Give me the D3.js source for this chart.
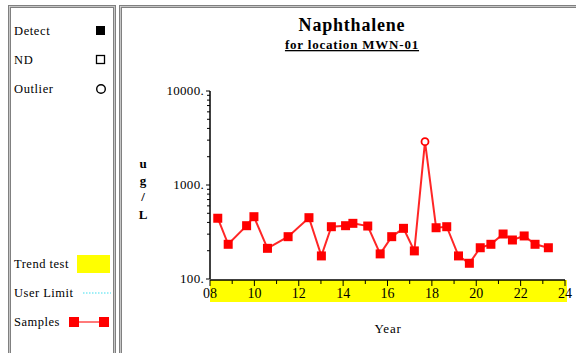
<!DOCTYPE html>
<html>
<meta charset="utf-8" />
<head>
<script src="https://cdnjs.cloudflare.com/ajax/libs/d3/7.8.5/d3.min.js"></script>
<style>
  body { margin: 0; background: #fff; }
</style>
</head>
<body>
<script>
// sample dates (decimal years, 2-digit) and naphthalene results (ug/L)
const years = [8.35, 8.82, 9.65, 9.98, 10.59, 11.52, 12.46, 13.02, 13.47, 14.11,
  14.44, 15.11, 15.67, 16.19, 16.72, 17.21, 17.69, 18.19, 18.67, 19.2,
  19.69, 20.18, 20.66, 21.21, 21.63, 22.16, 22.65, 23.25];
const values = [443, 234, 369, 460, 212, 282, 449, 176, 360, 369,
  391, 366, 185, 282, 346, 199, 2890, 351, 360, 176,
  147, 215, 234, 301, 260, 287, 234, 215];
const outlierIdx = [16];
const xTicks = [8, 10, 12, 14, 16, 18, 20, 22, 24];
const yTicks = [100, 1000, 10000];
const legendTop = ["Detect", "ND", "Outlier"];
const legendBottom = ["Trend test", "User Limit", "Samples"];

const W = 576, H = 353;
const svg = d3.select("body").append("svg").attr("width", W).attr("height", H)
  .attr("font-family", "'Liberation Serif', 'DejaVu Serif', serif");

// panel frames
const frame = (x, y, w, h) => {
  svg.append("rect").attr("x", x).attr("y", y).attr("width", w).attr("height", h)
    .attr("fill", "none").attr("stroke", "#808080").attr("stroke-width", 3);
  svg.append("rect").attr("x", x).attr("y", y).attr("width", w).attr("height", h)
    .attr("fill", "none").attr("stroke", "#d8d8d8").attr("stroke-width", 0.8);
};
frame(9.5, 6.5, 105, 360);
frame(120.5, 6.5, 470, 360);

// legend
const lg = svg.append("g").attr("font-size", 12.5).attr("fill", "#000");
const topY = [31, 60, 89];
legendTop.forEach((t, i) => lg.append("text").attr("x", 14).attr("y", topY[i] + 4).attr("letter-spacing", 0.6).text(t));
lg.append("rect").attr("x", 96).attr("y", topY[0] - 5).attr("width", 9).attr("height", 9).attr("fill", "#000");
lg.append("rect").attr("x", 96.5).attr("y", topY[1] - 4.5).attr("width", 8).attr("height", 8)
  .attr("fill", "none").attr("stroke", "#000").attr("stroke-width", 1.3);
lg.append("circle").attr("cx", 101).attr("cy", topY[2]).attr("r", 4.3)
  .attr("fill", "none").attr("stroke", "#000").attr("stroke-width", 1.4);

const botY = [264, 293, 322];
legendBottom.forEach((t, i) => lg.append("text").attr("x", 14).attr("y", botY[i] + 4).attr("letter-spacing", 0.5).text(t));
lg.append("rect").attr("x", 77).attr("y", 255).attr("width", 33).attr("height", 18).attr("fill", "#ffff00");
lg.append("line").attr("x1", 83).attr("x2", 111).attr("y1", 293).attr("y2", 293)
  .attr("stroke", "#40e0f0").attr("stroke-width", 1.2).attr("stroke-dasharray", "1.5,1.5");
lg.append("line").attr("x1", 74).attr("x2", 104).attr("y1", 322).attr("y2", 322)
  .attr("stroke", "#ff0000").attr("stroke-width", 1.3).attr("opacity", 0.8);
[74, 104].forEach(cx => lg.append("rect").attr("x", cx - 5).attr("y", 317).attr("width", 10).attr("height", 10).attr("fill", "#ff0000"));

// titles
svg.append("text").attr("x", 352).attr("y", 31).attr("text-anchor", "middle")
  .attr("font-size", 18).attr("font-weight", "bold").attr("letter-spacing", 0.8).text("Naphthalene");
svg.append("text").attr("x", 352).attr("y", 49).attr("text-anchor", "middle")
  .attr("font-size", 13).attr("font-weight", "bold").attr("letter-spacing", 0.8).attr("text-decoration", "underline")
  .text("for location MWN-01");

// scales
const x = d3.scaleLinear().domain([8, 24]).range([210, 565]);
const y = d3.scaleLog().domain([100, 10000]).range([279, 91]);

// trend test band
svg.append("rect").attr("x", x(8)).attr("y", 280).attr("width", x(24) - x(8) + 2).attr("height", 22)
  .attr("fill", "#ffff00");

// y axis
const yAxis = svg.append("g").attr("transform", `translate(${x(8)},0)`);
yAxis.append("line").attr("y1", y(10000)).attr("y2", y(100)).attr("stroke", "#000").attr("stroke-width", 1.5);
const minor = [];
for (let d = 100; d < 10000; d *= 10) for (let k = 2; k <= 9; k++) minor.push(d * k);
yAxis.selectAll(".mn").data(minor).join("line")
  .attr("x1", -3).attr("x2", 0).attr("y1", d => y(d)).attr("y2", d => y(d)).attr("stroke", "#000");
yAxis.selectAll(".mj").data(yTicks).join("line")
  .attr("x1", -4).attr("x2", 0).attr("y1", d => y(d)).attr("y2", d => y(d)).attr("stroke", "#000");
yAxis.selectAll(".lb").data(yTicks).join("text")
  .attr("x", -6).attr("y", d => y(d) + 4).attr("text-anchor", "end").attr("font-size", 13)
  .attr("letter-spacing", 0.3).text(d => d + ".");

// x axis
const xAxis = svg.append("g");
xAxis.append("line").attr("x1", x(8)).attr("x2", x(24)).attr("y1", 280).attr("y2", 280)
  .attr("stroke", "#000").attr("stroke-width", 1.5);
xAxis.selectAll(".mj").data(xTicks).join("line")
  .attr("x1", d => x(d)).attr("x2", d => x(d)).attr("y1", 280).attr("y2", 286).attr("stroke", "#000");
xAxis.selectAll(".mn").data(d3.range(9, 24, 2)).join("line")
  .attr("x1", d => x(d)).attr("x2", d => x(d)).attr("y1", 280).attr("y2", 284).attr("stroke", "#000");
xAxis.selectAll(".lb").data(xTicks).join("text")
  .attr("x", d => x(d)).attr("y", 298).attr("text-anchor", "middle").attr("font-size", 14)
  .text(d => String(d).padStart(2, "0"));

svg.append("text").attr("x", 388).attr("y", 333).attr("text-anchor", "middle").attr("font-size", 13)
  .attr("letter-spacing", 0.8).text("Year");
["u", "g", "/", "L"].forEach((c, i) =>
  svg.append("text").attr("x", 143).attr("y", [168, 185, 201, 219][i]).attr("text-anchor", "middle")
    .attr("font-size", 13).attr("font-weight", "bold").text(c));

// series
const pts = years.map((yr, i) => ({ yr, v: values[i], out: outlierIdx.includes(i) }));
svg.append("path").datum(pts)
  .attr("d", d3.line().x(d => x(d.yr)).y(d => y(d.v)))
  .attr("fill", "none").attr("stroke", "#ff0000").attr("stroke-width", 2).attr("opacity", 0.85);
svg.selectAll(".pt").data(pts.filter(d => !d.out)).join("rect")
  .attr("x", d => x(d.yr) - 4.5).attr("y", d => y(d.v) - 4.5).attr("width", 9).attr("height", 9)
  .attr("fill", "#ff0000");
svg.selectAll(".ol").data(pts.filter(d => d.out)).join("circle")
  .attr("cx", d => x(d.yr)).attr("cy", d => y(d.v)).attr("r", 3.5)
  .attr("fill", "#fff").attr("stroke", "#ff0000").attr("stroke-width", 1.8);
</script>
</body>
</html>
